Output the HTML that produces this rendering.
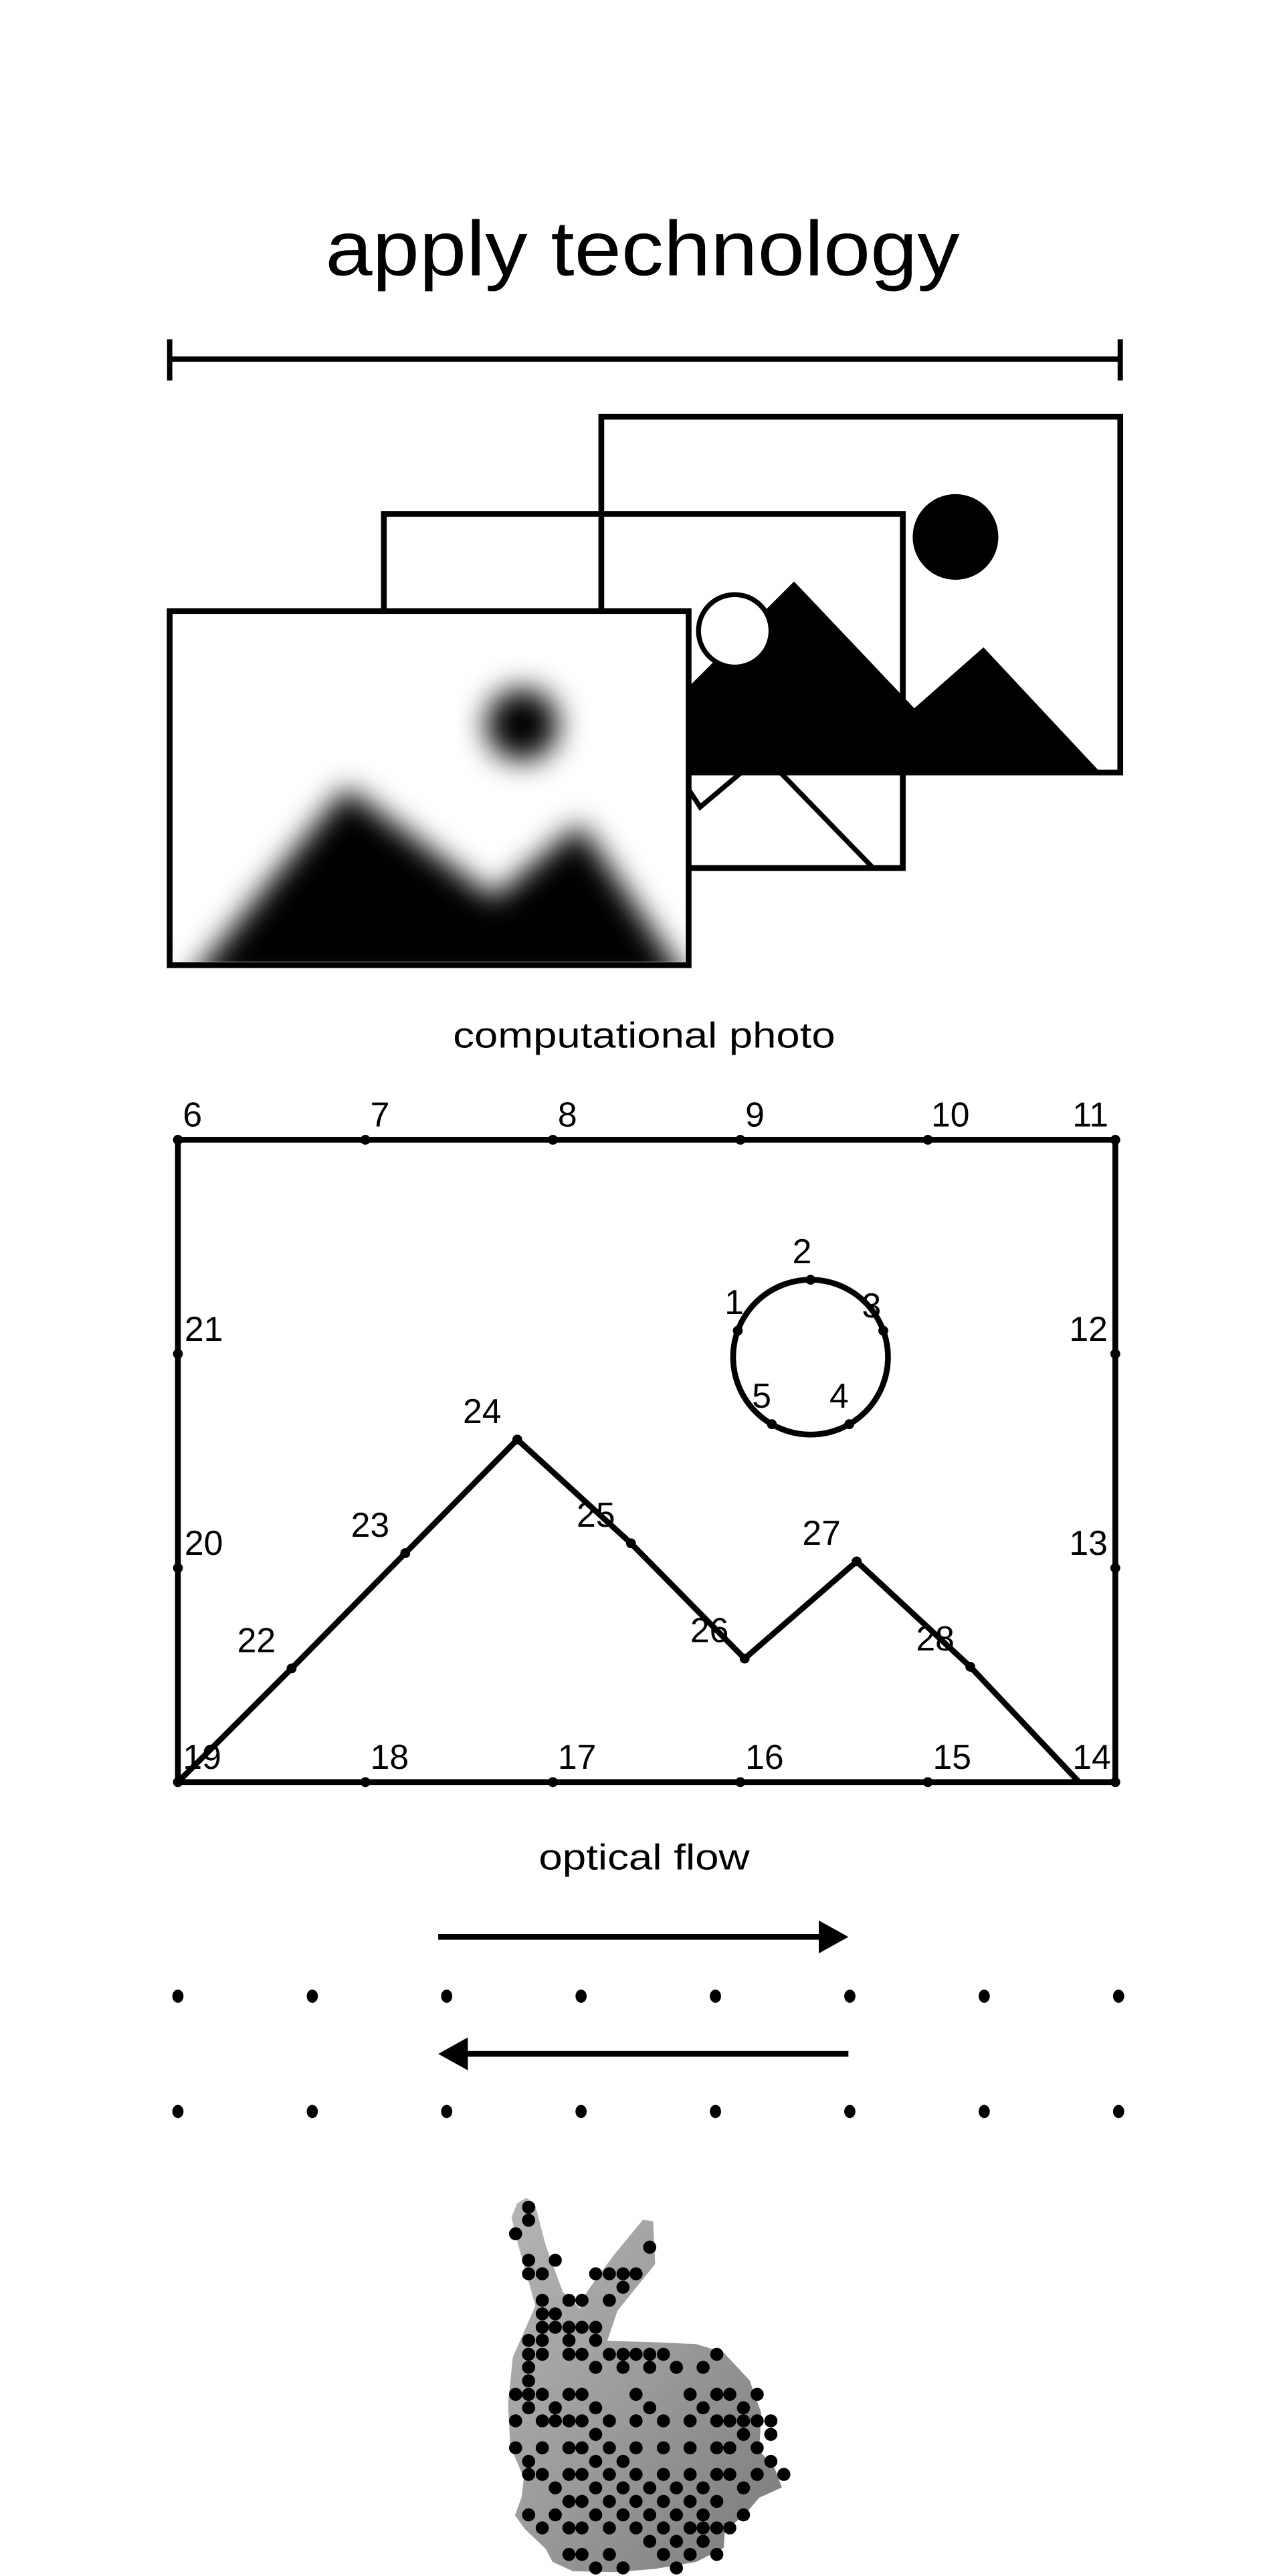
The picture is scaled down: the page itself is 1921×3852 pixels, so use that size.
<!DOCTYPE html>
<html><head><meta charset="utf-8"><style>
html,body{margin:0;padding:0;background:#fff;}
svg{display:block;}
text{font-family:"Liberation Sans",sans-serif;fill:#000;}
</style></head><body>
<svg id="root" width="1921" height="3852" viewBox="0 0 780 1564" xmlns="http://www.w3.org/2000/svg">
<defs>
<filter id="blur" x="-50%" y="-50%" width="200%" height="200%"><feGaussianBlur stdDeviation="9"/></filter>
<clipPath id="frontClip"><rect x="105" y="373" width="311" height="211"/></clipPath>
<linearGradient id="bunnyGrad" x1="0" y1="0" x2="1" y2="1"><stop offset="0" stop-color="#b5b5b5"/><stop offset="0.5" stop-color="#9a9a9a"/><stop offset="1" stop-color="#7a7a7a"/></linearGradient>
</defs>

<text x="390" y="167" text-anchor="middle" font-size="47" textLength="385" lengthAdjust="spacingAndGlyphs">apply technology</text>

<g stroke="#000" stroke-width="3.2" fill="none">
<line x1="103" y1="218" x2="680" y2="218"/>
<line x1="103" y1="206" x2="103" y2="231"/>
<line x1="680" y1="206" x2="680" y2="231"/>
</g>

<g>
<rect x="365" y="253" width="315" height="216" fill="#fff" stroke="#000" stroke-width="3.5"/>
<circle cx="580" cy="326" r="26" fill="#000"/>
<polygon points="405,469 405,430 482,353 555,430 597,393 668,469" fill="#000"/>
</g>

<g>
<rect x="233" y="312" width="315" height="215" fill="none" stroke="#000" stroke-width="3.5"/>
<circle cx="446" cy="383" r="22" fill="#fff" stroke="#000" stroke-width="3"/>
<polyline points="412,470 425,490 463,458 530,527" fill="none" stroke="#000" stroke-width="3"/>
</g>

<g>
<rect x="103" y="371" width="315" height="215" fill="#fff"/>
<g clip-path="url(#frontClip)" filter="url(#blur)">
<circle cx="317" cy="440" r="22" fill="#000"/>
<polygon points="112,600 210,478 300,545 352,500 420,600" fill="#000"/>
</g>
<rect x="103" y="371" width="315" height="215" fill="none" stroke="#000" stroke-width="3.5"/>
</g>

<text x="391" y="636" text-anchor="middle" font-size="22" textLength="232" lengthAdjust="spacingAndGlyphs">computational photo</text>

<g id="flowDiagram"></g>

<text x="391" y="1135" text-anchor="middle" font-size="22" textLength="128" lengthAdjust="spacingAndGlyphs">optical flow</text>

<g>
<line x1="266" y1="1176" x2="500" y2="1176" stroke="#000" stroke-width="3.5"/>
<polygon points="497,1166 515,1176 497,1186" fill="#000"/>
</g>
<g>
<line x1="281" y1="1247" x2="515" y2="1247" stroke="#000" stroke-width="3.5"/>
<polygon points="284,1237 266,1247 284,1257" fill="#000"/>
</g>
<g id="dotRows"></g>

<g transform="scale(0.40604) translate(202,2759) scale(1.023,0.696)">
<path fill="url(#bunnyGrad)" d="M558,770 L572,758 L584,770 L600,860 L625,960 L650,995 L660,960 L700,880 L742,805 L757,808 L760,900 L705,1000 L690,1065 L760,1068 L820,1072 L860,1090 L898,1150 L915,1220 L912,1300 L935,1340 L945,1380 L912,1402 L890,1440 L862,1472 L860,1510 L820,1540 L760,1555 L700,1562 L640,1560 L610,1540 L600,1512 L570,1470 L555,1440 L565,1400 L568,1360 L548,1290 L545,1200 L552,1100 L570,1040 L585,990 L560,860 L550,800 Z"/>
<g id="bunnyDots"></g>
</g>
</svg>
<script>
var NS="http://www.w3.org/2000/svg";
var frameX0=108, frameX1=677, frameY0=692, frameY1=1082;
var topLabels=["6","7","8","9","10","11"];
var bottomLabels=["19","18","17","16","15","14"];
var sideFractions=[1/3,2/3];
var leftLabels=["21","20"];
var rightLabels=["12","13"];
var mountainX=[108,177,246,314,383,452,520,589,655];
var mountainY=[1082,1013,943,874,937,1007,948,1012,1082];
var mountainLabels=["","22","23","24","25","26","27","28",""];
var circleCx=492, circleCy=824, circleR=47;
var circleAngles=[200,270,340,60,120];
var circleLabels=["1","2","3","4","5"];

function px(i,n){return frameX0+(frameX1-frameX0)*i/(n-1);}
function el(tag,attrs,parent){var e=document.createElementNS(NS,tag);for(var k in attrs)e.setAttribute(k,attrs[k]);parent.appendChild(e);return e;}
var g=document.getElementById('flowDiagram');
var fr=el('rect',{x:frameX0,y:frameY0,width:frameX1-frameX0,height:frameY1-frameY0,fill:'none',stroke:'#000','stroke-width':3.5},g);


function dot(x,y,lab,dx,dy){
  var c=el('circle',{cx:x,cy:y,r:3,fill:'#000'},g);
  
  
  if(lab){var t=el('text',{x:x+dx,y:y+dy,'font-size':21},g);t.textContent=lab;
    
    }
}
topLabels.forEach(function(l,i){var x=px(i,6);dot(x,frameY0,l,i==5?-26:(i==4?2:3),-8);});
bottomLabels.forEach(function(l,i){var x=px(i,6);dot(x,frameY1,l,i==5?-26:3,-8);});
sideFractions.forEach(function(f,i){var y=frameY0+(frameY1-frameY0)*f;
  dot(frameX0,y,leftLabels[i],4,-8);dot(frameX1,y,rightLabels[i],-28,-8);});
var pts=mountainX.map(function(x,i){return x+','+mountainY[i];}).join(' ');
var ml=el('polyline',{points:pts,fill:'none',stroke:'#000','stroke-width':3.5},g);


mountainX.forEach(function(x,i){if(mountainLabels[i])dot(x,mountainY[i],mountainLabels[i],-33,-10);});
var cc=el('circle',{cx:circleCx,cy:circleCy,r:circleR,fill:'none',stroke:'#000','stroke-width':3.5},g);


var cOff=[[-8,-10],[-11,-10],[-13,-8],[-12,-10],[-12,-10]];
circleAngles.forEach(function(a,i){var r=a*Math.PI/180;
  dot(circleCx+circleR*Math.cos(r),circleCy+circleR*Math.sin(r),circleLabels[i],cOff[i][0],cOff[i][1]);});

var rowY=[1212,1282];
var rowCount=8;
var dr=document.getElementById('dotRows');
rowY.forEach(function(y){for(var i=0;i<rowCount;i++){
  var c=el('ellipse',{cx:108+i*(679-108)/(rowCount-1),cy:y,rx:3.4,ry:4,fill:'#000'},dr);
  
  }});

var bunnyRows=[778,806,835,864,892,921,950,978,1007,1036,1064,1094,1122,1151,1180,1209,1237,1266,1295,1324,1352,1381,1410,1439,1467,1496,1524,1553];
var bunnyCols=[[575],[575],[556],[752],[575,614],[575,595,673,693,713,732],[713],[595,634,653,693],[595,614],[595,614,634,653,673],[575,595,634,673],[575,595,634,653,693,713,732,752,772,850],[575,673,713,752,791,830],[575],[556,575,595,634,653,732,811,850,869,909],[575,614,673,752,830,889],[556,595,614,634,653,693,732,772,811,850,869,889,909,929],[673,889,929],[556,595,634,653,693,732,772,811,850,869,909],[575,673,713,929],[575,595,634,653,693,732,772,811,850,869,909,948],[614,673,713,752,791,830,889],[634,653,693,732,772,811,850],[575,614,673,713,752,791,830,889],[595,634,653,693,732,772,811,830,850,869],[752,791,830],[634,653,693,772,811,850],[673,713,791]];
var bd=document.getElementById('bunnyDots');
bunnyRows.forEach(function(y,r){bunnyCols[r].forEach(function(x){
  var c=el('ellipse',{cx:x,cy:y,rx:9.6,ry:14,fill:'#000'},bd);
  
  });});
</script>
</body></html>
